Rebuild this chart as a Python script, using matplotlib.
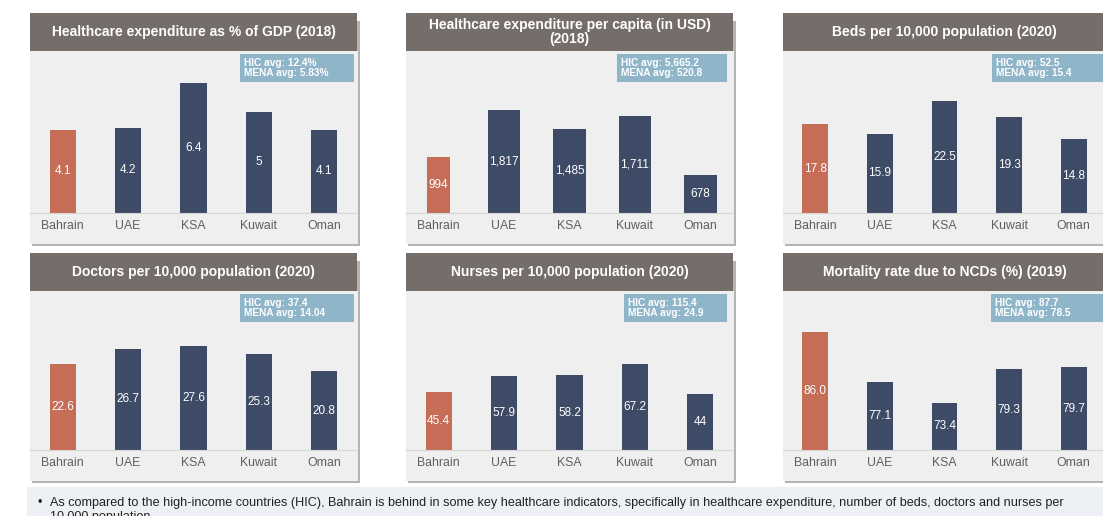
import matplotlib.pyplot as plt
from matplotlib.patches import Rectangle

# ── data ────────────────────────────────────────────────────────────────────
countries = ["Bahrain", "UAE", "KSA", "Kuwait", "Oman"]
gdp_share = [4.1, 4.2, 6.4, 5.0, 4.1]
per_capita = [994, 1817, 1485, 1711, 678]
beds = [17.8, 15.9, 22.5, 19.3, 14.8]
doctors = [22.6, 26.7, 27.6, 25.3, 20.8]
nurses = [45.4, 57.9, 58.2, 67.2, 44.0]
ncd_mortality = [86.0, 77.1, 73.4, 79.3, 79.7]

titles = [
    "Healthcare expenditure as % of GDP (2018)",
    "Healthcare expenditure per capita (in USD)\n(2018)",
    "Beds per 10,000 population (2020)",
    "Doctors per 10,000 population (2020)",
    "Nurses per 10,000 population (2020)",
    "Mortality rate due to NCDs (%) (2019)",
]
hic_avg = ["12.4%", "5,665.2", "52.5", "37.4", "115.4", "87.7"]
mena_avg = ["5.83%", "520.8", "15.4", "14.04", "24.9", "78.5"]
footnote = ("As compared to the high-income countries (HIC), Bahrain is behind in some key "
            "healthcare indicators, specifically in healthcare expenditure, number of beds, "
            "doctors and nurses per\n10,000 population")

series = [gdp_share, per_capita, beds, doctors, nurses, ncd_mortality]
fmts = ["{:g}", "{:,.0f}", "{:g}", "{:g}", "{:g}", "{:.1f}"]
ylims = [(0, 8.0), (0, 2860), (0, 32.5), (0, 42), (0, 124), (65, 93.2)]

# ── layout (pixels) ─────────────────────────────────────────────────────────
W, H = 1103, 516
col_x = [(30, 357), (406, 733), (783, 1106)]
rows = [dict(top=13, tbot=51, base=213, bot=244), dict(top=253, tbot=291, base=450, bot=481)]
box_x = [(240, 354), (617, 727), (992, 1110), (240, 354), (624, 727), (991, 1110)]

TITLE_BG = "#756d6a"
PANEL_BG = "#efefef"
BOX_BG = "#8fb5c9"
BAHRAIN = "#c56d57"
OTHER = "#3e4b66"
GREY_TXT = "#5f5f5f"
FONT = "Liberation Sans"

fig = plt.figure(figsize=(W / 100, H / 100), dpi=100)
fig.patch.set_facecolor("white")


def rect(x0, y0, x1, y1, color, z=0):
    fig.add_artist(Rectangle((x0 / W, 1 - y1 / H), (x1 - x0) / W, (y1 - y0) / H,
                             transform=fig.transFigure, facecolor=color,
                             edgecolor="none", zorder=z))


for i in range(6):
    (x0, x1), r = col_x[i % 3], rows[i // 3]
    # shadow, body, title bar
    rect(x0 + 2, r["top"] + 8, x1 + 3, r["bot"] + 2, "#b4b4b4", 0)
    rect(x0, r["tbot"], x1 + 1, r["bot"], PANEL_BG, 1)
    rect(x0, r["top"], x1, r["tbot"], TITLE_BG, 2)
    fig.text((x0 + x1) / 2 / W, 1 - (r["top"] + r["tbot"]) / 2 / H, titles[i],
             ha="center", va="center", color="white", fontsize=10, fontweight="bold",
             family=FONT, linespacing=1.0, zorder=3)

    # average box
    bx0, bx1 = box_x[i]
    by0 = r["tbot"] + 3
    rect(bx0, by0, bx1, by0 + 28, BOX_BG, 3)
    fig.text((bx0 + 4) / W, 1 - (by0 + 14) / H,
             f"HIC avg: {hic_avg[i]}\nMENA avg: {mena_avg[i]}",
             ha="left", va="center", color="white", fontsize=7.3, fontweight="bold",
             family=FONT, linespacing=1.05, zorder=4)

    # bars
    ax = fig.add_axes([x0 / W, 1 - r["base"] / H, (x1 - x0) / W, (r["base"] - r["tbot"]) / H])
    ax.set_facecolor("none")
    ax.set_zorder(5)
    colors = [BAHRAIN] + [OTHER] * (len(countries) - 1)
    widths = [0.36, 0.5, 0.5, 0.5, 0.5] if i == 1 else 0.4
    bars = ax.bar(range(len(countries)), series[i], width=widths, color=colors)
    ax.bar_label(bars, labels=[fmts[i].format(v) for v in series[i]], label_type="center",
                 color="white", fontsize=8.5, family=FONT)
    ax.set_xlim(-0.5, len(countries) - 0.5)
    ax.set_ylim(*ylims[i])
    ax.set_yticks([])
    ax.set_xticks(range(len(countries)))
    ax.set_xticklabels(countries, fontsize=8.8, color=GREY_TXT, family=FONT)
    ax.tick_params(axis="x", length=0, pad=5)
    for s in ["top", "left", "right"]:
        ax.spines[s].set_visible(False)
    ax.spines["bottom"].set_color("#d5d5d5")
    ax.spines["bottom"].set_linewidth(0.8)

# footnote strip
rect(27, 487, 1110, 520, "#edf1f5", 0)
fig.text(37 / W, 1 - 497 / H, "\u2022", ha="left", va="top", fontsize=9, color="#222222",
         family=FONT)
fig.text(50 / W, 1 - 497 / H, footnote, ha="left", va="top", fontsize=9.1, color="#222222",
         family=FONT, linespacing=1.2)

plt.savefig("out.png", dpi=100)
